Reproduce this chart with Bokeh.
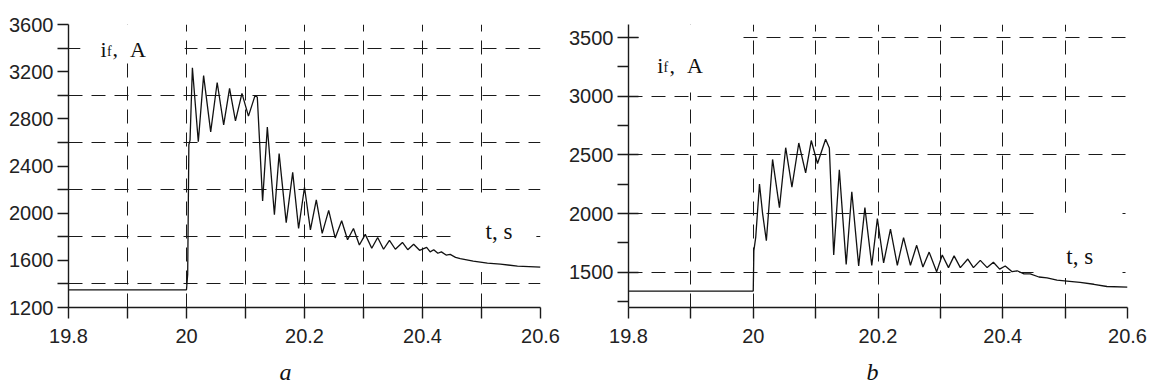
from bokeh.plotting import figure
from bokeh.models import FixedTicker, CustomJSTickFormatter, Label, BoxAnnotation
from bokeh.layouts import row, column
from bokeh.embed import file_html
from bokeh.resources import INLINE

# ---------------- data ----------------
# panel a
t_a = [19.800, 20.000, 20.002, 20.004, 20.006, 20.010, 20.020, 20.029, 20.041, 20.052,
       20.063, 20.073, 20.083, 20.094, 20.105, 20.116, 20.120, 20.129, 20.137, 20.149,
       20.157, 20.169, 20.180, 20.190, 20.200, 20.210, 20.220, 20.230, 20.241, 20.252,
       20.263, 20.273, 20.283, 20.293, 20.303, 20.314, 20.324, 20.334, 20.344, 20.354,
       20.366, 20.375, 20.385, 20.395, 20.407, 20.413, 20.419, 20.426, 20.432, 20.440,
       20.447, 20.456, 20.464, 20.486, 20.510, 20.532, 20.561, 20.600]
i_a = [1350, 1350, 1480, 2580, 2620, 3233, 2606, 3166, 2690, 3108,
       2748, 3058, 2782, 3016, 2823, 2995, 2985, 2104, 2731, 1987,
       2505, 1920, 2346, 1870, 2220, 1858, 2112, 1828, 2024, 1790,
       1936, 1774, 1870, 1730, 1820, 1702, 1794, 1694, 1769, 1694,
       1752, 1690, 1736, 1685, 1710, 1672, 1690, 1660, 1672, 1645,
       1650, 1625, 1615, 1593, 1577, 1568, 1551, 1543]

# panel b
t_b = [19.800, 20.000, 20.001, 20.004, 20.010, 20.015, 20.021, 20.031, 20.042, 20.052,
       20.062, 20.073, 20.084, 20.093, 20.103, 20.116, 20.122, 20.129, 20.138, 20.149,
       20.158, 20.169, 20.179, 20.190, 20.199, 20.209, 20.220, 20.231, 20.241, 20.252,
       20.262, 20.272, 20.282, 20.294, 20.303, 20.313, 20.322, 20.332, 20.344, 20.353,
       20.364, 20.375, 20.385, 20.395, 20.404, 20.415, 20.423, 20.434, 20.444, 20.458,
       20.471, 20.487, 20.503, 20.524, 20.546, 20.567, 20.600]
i_b = [1340, 1340, 1685, 1800, 2253, 2000, 1769, 2462, 2051, 2562,
       2226, 2602, 2347, 2623, 2427, 2634, 2560, 1648, 2373, 1567,
       2186, 1554, 2051, 1559, 1957, 1581, 1867, 1560, 1796, 1560,
       1730, 1545, 1672, 1504, 1648, 1540, 1640, 1540, 1613, 1540,
       1602, 1540, 1586, 1527, 1554, 1505, 1513, 1486, 1486, 1460,
       1452, 1433, 1425, 1414, 1398, 1379, 1373]

x_major = [19.8, 20.0, 20.2, 20.4, 20.6]
x_minor = [19.9, 20.1, 20.3, 20.5]
ya_major = [1200, 1600, 2000, 2400, 2800, 3200, 3600]
ya_minor = [1400, 1800, 2200, 2600, 3000, 3400]
yb_major = [1500, 2000, 2500, 3000, 3500]
yb_minor = [1250, 1750, 2250, 2750, 3250]

ylabel_i = "i"
ylabel_sub = "f"
ylabel_unit = "A"
xlabel_text = "t, s"
panel_names = ["a", "b"]

INK = "#1a1a1a"
DASH = "14 9"
SERIF = "Liberation Serif"
SANS = "Liberation Sans"

xfmt = "return (Math.round(tick*10)/10).toString();"
yfmt = "return tick.toFixed(0);"


def style(p, xt, yt):
    p.outline_line_color = None
    p.xaxis.ticker = xt
    p.yaxis.ticker = yt
    p.xaxis.formatter = CustomJSTickFormatter(code=xfmt)
    p.yaxis.formatter = CustomJSTickFormatter(code=yfmt)
    for ax in (p.xaxis[0], p.yaxis[0]):
        ax.axis_line_color = INK
        ax.axis_line_width = 1.4
        ax.major_tick_line_color = INK
        ax.major_tick_line_width = 1.4
        ax.minor_tick_line_color = INK
        ax.minor_tick_line_width = 1.4
        ax.major_tick_out = 11
        ax.minor_tick_out = 11
        ax.minor_tick_in = 0
        ax.major_label_text_font = SANS
        ax.major_label_text_font_size = "20px"
        ax.major_label_text_color = "#222222"
    p.xaxis.major_tick_in = 0
    p.xaxis.major_label_standoff = 10
    p.yaxis.major_label_standoff = 4


# ---------------- panel a ----------------
pa = figure(width=560, height=357, x_range=(19.8, 20.6), y_range=(1200, 3600),
            output_backend="svg", toolbar_location=None, title=None,
            min_border_left=68, min_border_right=20, min_border_top=24, min_border_bottom=46)
style(pa, FixedTicker(ticks=x_major, minor_ticks=x_minor),
      FixedTicker(ticks=ya_major, minor_ticks=ya_minor))
pa.yaxis.major_tick_in = 0
pa.xgrid.grid_line_color = INK
pa.xgrid.grid_line_dash = DASH
pa.xgrid.minor_grid_line_color = INK
pa.xgrid.minor_grid_line_dash = DASH
pa.ygrid.grid_line_color = None
pa.ygrid.minor_grid_line_color = INK
pa.ygrid.minor_grid_line_dash = DASH

pa.add_layout(BoxAnnotation(left=19.820, right=19.997, bottom=3282, top=3600,
                            fill_color="white", fill_alpha=1, line_color=None, level="underlay"))
pa.add_layout(BoxAnnotation(left=20.459, right=20.593, bottom=1501, top=2103,
                            fill_color="white", fill_alpha=1, line_color=None, level="underlay"))

pa.line(t_a, i_a, line_color="#111111", line_width=1.3)

# ---------------- panel b ----------------
pb = figure(width=593, height=357, x_range=(19.8, 20.6), y_range=(1200, 3612),
            output_backend="svg", toolbar_location=None, title=None,
            min_border_left=68, min_border_right=26, min_border_top=8, min_border_bottom=50)
style(pb, FixedTicker(ticks=x_major, minor_ticks=x_minor),
      FixedTicker(ticks=yb_major, minor_ticks=yb_minor))
pb.yaxis.major_tick_in = 10
pb.xgrid.grid_line_color = INK
pb.xgrid.grid_line_dash = DASH
pb.xgrid.minor_grid_line_color = INK
pb.xgrid.minor_grid_line_dash = DASH
pb.ygrid.grid_line_color = INK
pb.ygrid.grid_line_dash = DASH

pb.add_layout(BoxAnnotation(left=19.816, right=19.971, bottom=3032, top=3612,
                            fill_color="white", fill_alpha=1, line_color=None, level="underlay"))
pb.add_layout(BoxAnnotation(left=20.460, right=20.592, bottom=1452, top=2008,
                            fill_color="white", fill_alpha=1, line_color=None, level="underlay"))

pb.line(t_b, i_b, line_color="#111111", line_width=1.3)


def add_labels(p, xi, yi, xf, yf, xc, xA, xt, yt):
    common = dict(text_font=SERIF, text_color="#111111", text_baseline="alphabetic")
    p.add_layout(Label(x=xi, y=yi, text=ylabel_i, text_font_size="22px", **common))
    p.add_layout(Label(x=xf, y=yf, text=ylabel_sub, text_font_size="14px", **common))
    p.add_layout(Label(x=xc, y=yi, text=",", text_font_size="22px", **common))
    p.add_layout(Label(x=xA, y=yi, text=ylabel_unit, text_font_size="22px", **common))
    p.add_layout(Label(x=xt, y=yt, text=xlabel_text, text_font_size="23px", **common))


add_labels(pa, 19.8542, 3391, 19.8653, 3370, 19.8746, 19.9042, 20.5068, 1844)
add_labels(pb, 19.8460, 3261, 19.8561, 3242, 19.8657, 19.8938, 20.5019, 1635)


# ---------------- caption strips (panel letters) ----------------
def caption(width, right, name, xpos):
    q = figure(width=width, height=28, x_range=(19.8, 20.6), y_range=(0, 1),
               output_backend="svg", toolbar_location=None, title=None,
               x_axis_type=None, y_axis_type=None,
               min_border_left=68, min_border_right=right, min_border_top=0, min_border_bottom=0)
    q.outline_line_color = None
    q.add_layout(Label(x=xpos, y=0.5, text=name, text_font=SERIF, text_font_style="italic",
                       text_font_size="24px", text_color="#111111", text_baseline="middle"))
    return q


qa = caption(560, 20, panel_names[0], 20.1576)
qb = caption(593, 26, panel_names[1], 20.1814)

layout = column(row(pa, pb), row(qa, qb))
open("out.html", "w").write(file_html(layout, INLINE))
